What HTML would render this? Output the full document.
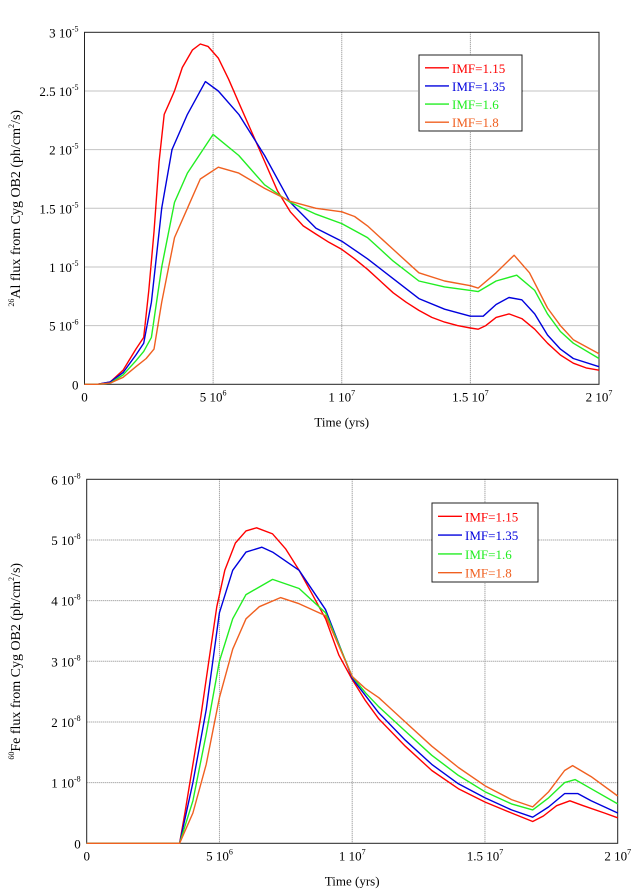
<!DOCTYPE html>
<html><head><meta charset="utf-8"><style>
body{margin:0;background:#fff}
svg{display:block;font-family:"Liberation Serif",serif}
</style></head><body>
<svg id="s" width="636" height="892" xmlns="http://www.w3.org/2000/svg"></svg>
<script>
const seriesNames=["IMF=1.15","IMF=1.35","IMF=1.6","IMF=1.8"];
const colors=["#ff0000","#0000dd","#22ee22","#f06020"];
const xTickLabels=["0","5 10","1 10","1.5 10","2 10"];
const xTickExp=["","6","7","7","7"];
// top chart (x in 1e6 yrs, y in 1e-5)
const alX=[[0,0.5,1,1.5,2,2.3,2.5,2.7,2.9,3.1,3.3,3.5,3.8,4.2,4.5,4.8,5.2,5.6,6,6.5,7,7.5,8,8.5,9,9.5,10,10.5,11,11.5,12,12.5,13,13.5,14,14.5,15,15.3,15.6,16,16.5,17,17.5,18,18.5,19,19.5,20],
[0,0.5,1,1.5,2,2.3,2.6,3,3.4,4,4.7,5.2,6,7,8,9,10,11,12,13,14,15,15.5,16,16.5,17,17.5,18,18.5,19,20],
[0,0.5,1,1.5,2,2.3,2.6,3,3.5,4,5,6,7,8,9,10,11,12,13,14,15,15.3,16,16.8,17.5,18,18.5,19,20],
[0,0.5,1,1.5,2,2.4,2.7,3,3.5,4,4.5,5.2,6,7,8,9,10,10.5,11,12,13,14,15,15.3,16,16.7,17.3,18,18.5,19,20]];
const alY=[[0,0,0.02,0.12,0.3,0.4,0.8,1.3,1.9,2.3,2.4,2.5,2.7,2.85,2.9,2.88,2.78,2.6,2.4,2.15,1.9,1.65,1.47,1.35,1.28,1.21,1.15,1.07,0.98,0.88,0.78,0.7,0.63,0.57,0.53,0.5,0.48,0.47,0.5,0.57,0.6,0.56,0.47,0.35,0.25,0.18,0.14,0.12],
[0,0,0.02,0.1,0.25,0.35,0.7,1.5,2.0,2.3,2.58,2.5,2.3,1.95,1.55,1.33,1.22,1.07,0.9,0.73,0.64,0.58,0.58,0.68,0.74,0.72,0.6,0.42,0.3,0.22,0.15],
[0,0,0.01,0.08,0.2,0.28,0.4,1.0,1.55,1.8,2.13,1.95,1.7,1.55,1.45,1.37,1.25,1.05,0.88,0.83,0.8,0.79,0.88,0.93,0.8,0.6,0.45,0.35,0.22],
[0,0,0.01,0.06,0.15,0.22,0.3,0.7,1.25,1.5,1.75,1.85,1.8,1.67,1.56,1.5,1.47,1.43,1.35,1.15,0.95,0.88,0.84,0.82,0.95,1.1,0.95,0.65,0.5,0.38,0.26]];
// bottom chart (x in 1e6 yrs, y in 1e-8)
const feX=[[0,3.5,3.7,4,4.3,4.6,4.9,5.2,5.6,6,6.4,7,7.5,8,8.5,9,9.5,10,10.5,11,12,13,14,15,16,16.8,17.2,17.7,18.2,18.7,19.5,20],
[0,3.5,4,4.5,5,5.5,6,6.6,7,8,9,10,11,12,13,14,15,16,16.8,17.4,18,18.5,19,20],
[0,3.5,4,4.5,5,5.5,6,7,8,9,10,10.5,11,12,13,14,15,16,16.8,17.4,18,18.4,19,20],
[0,3.5,4,4.5,5,5.5,6,6.5,7.3,8,9,10,10.5,11,12,13,14,15,16,16.8,17.4,18,18.3,19,20]];
const feY=[[0,0,0.5,1.3,2.1,3.0,3.9,4.5,4.95,5.15,5.2,5.1,4.85,4.5,4.1,3.7,3.1,2.7,2.35,2.05,1.6,1.2,0.9,0.68,0.5,0.36,0.45,0.62,0.7,0.62,0.5,0.42],
[0,0,1.0,2.2,3.8,4.5,4.8,4.88,4.8,4.5,3.85,2.72,2.15,1.7,1.3,0.98,0.75,0.55,0.43,0.6,0.82,0.82,0.7,0.5],
[0,0,0.7,1.8,3.0,3.7,4.1,4.35,4.2,3.8,2.75,2.48,2.25,1.85,1.45,1.12,0.85,0.65,0.55,0.75,1.0,1.05,0.9,0.65],
[0,0,0.5,1.3,2.4,3.2,3.7,3.9,4.05,3.95,3.75,2.75,2.55,2.4,2.0,1.6,1.25,0.95,0.72,0.6,0.85,1.2,1.28,1.1,0.78]];
const alYTicks=["0","5 10","1 10","1.5 10","2 10","2.5 10","3 10"];
const alYExp=["","-6","-5","-5","-5","-5","-5"];
const feYTicks=["0","1 10","2 10","3 10","4 10","5 10","6 10"];
const feYExp=["","-8","-8","-8","-8","-8","-8"];

const S=document.getElementById('s');const NS="http://www.w3.org/2000/svg";
function mk(t,a,p){const e=document.createElementNS(NS,t);for(const k in a)e.setAttribute(k,a[k]);(p||S).appendChild(e);return e;}
function txt(x,y,s,exp,anchor,p,size){const t=mk('text',{x:x,y:y,'font-size':size||13,'text-anchor':anchor||'middle'},p);t.textContent=s;if(exp){const ts=mk('tspan',{dy:-6,'font-size':8},t);ts.textContent=exp;}return t;}

function chart(cfg){
  const g=mk('g',{});
  
  
  const sx=v=>cfg.x0+(cfg.x1-cfg.x0)*v/20;
  const sy=v=>cfg.y0-(cfg.y0-cfg.y1)*v/cfg.ymax;
  for(let i=1;i<4;i++){const l=mk('line',{x1:sx(i*5),x2:sx(i*5),y1:cfg.y1,y2:cfg.y0,stroke:'#888','stroke-width':1,'stroke-dasharray':'1,1'},g);}
  for(let i=1;i<6;i++){const v=i*cfg.ymax/6;const l=mk('line',{x1:cfg.x0,x2:cfg.x1,y1:sy(v),y2:sy(v),stroke:'#888','stroke-width':1,'stroke-dasharray':'1,1'},g);}
  const fr=mk('rect',{x:cfg.x0,y:cfg.y1,width:cfg.x1-cfg.x0,height:cfg.y0-cfg.y1,fill:'none',stroke:'#222','stroke-width':1},g);
  
  for(let s=0;s<4;s++){
    const pts=cfg.xs[s].map((x,i)=>sx(x).toFixed(1)+','+sy(cfg.ys[s][i]).toFixed(1)).join(' ');
    const pl=mk('polyline',{points:pts,fill:'none',stroke:colors[s],'stroke-width':1.4,'stroke-linejoin':'round'},g);
    
    
  }
  for(let i=0;i<5;i++){const t=txt(sx(i*5),cfg.y0+17,xTickLabels[i],xTickExp[i],'middle',g);}
  for(let i=0;i<7;i++){const t=txt(cfg.x0-6,sy(i*cfg.ymax/6)+5,cfg.yt[i],cfg.ye[i],'end',g);}
  const xt=txt((cfg.x0+cfg.x1)/2,cfg.y0+42,'Time (yrs)','','middle',g);
  
  const yt=mk('text',{x:0,y:0,'font-size':14,'text-anchor':'middle',transform:'translate('+cfg.ylx+','+((cfg.y0+cfg.y1)/2)+') rotate(-90)'},g);
  
  const a=mk('tspan',{dy:-6,'font-size':8},yt);a.textContent=cfg.iso;
  const b=mk('tspan',{dy:6},yt);b.textContent=cfg.el+' flux from Cyg OB2 (ph/cm';
  const c=mk('tspan',{dy:-6,'font-size':8},yt);c.textContent='2';
  const d=mk('tspan',{dy:6},yt);d.textContent='/s)';
  const lg=mk('g',{},g);
  mk('rect',{x:cfg.lx,y:cfg.ly,width:cfg.lw,height:cfg.lh,fill:'#fff',stroke:'#222','stroke-width':1},lg);
  for(let s=0;s<4;s++){
    const yy=cfg.ly+cfg.lh*(s+0.6)/4.2+2;
    const e=mk('g',{},lg);
    mk('line',{x1:cfg.lx+6,x2:cfg.lx+30,y1:yy,y2:yy,stroke:colors[s],'stroke-width':1.4},e);
    const t=txt(cfg.lx+33,yy+5,seriesNames[s],'','start',e);t.setAttribute('fill',colors[s]);
  }
}
chart({name:'al26-chart',x0:84.5,x1:599,y0:384.3,y1:32.3,ymax:3,xs:alX,ys:alY,yt:alYTicks,ye:alYExp,ylx:20,iso:'26',el:'Al',lx:419,ly:55,lw:103,lh:76});
chart({name:'fe60-chart',x0:86.7,x1:617.7,y0:843.3,y1:479.3,ymax:6,xs:feX,ys:feY,yt:feYTicks,ye:feYExp,ylx:20,iso:'60',el:'Fe',lx:432,ly:503,lw:106,lh:79});
</script>
</body></html>
